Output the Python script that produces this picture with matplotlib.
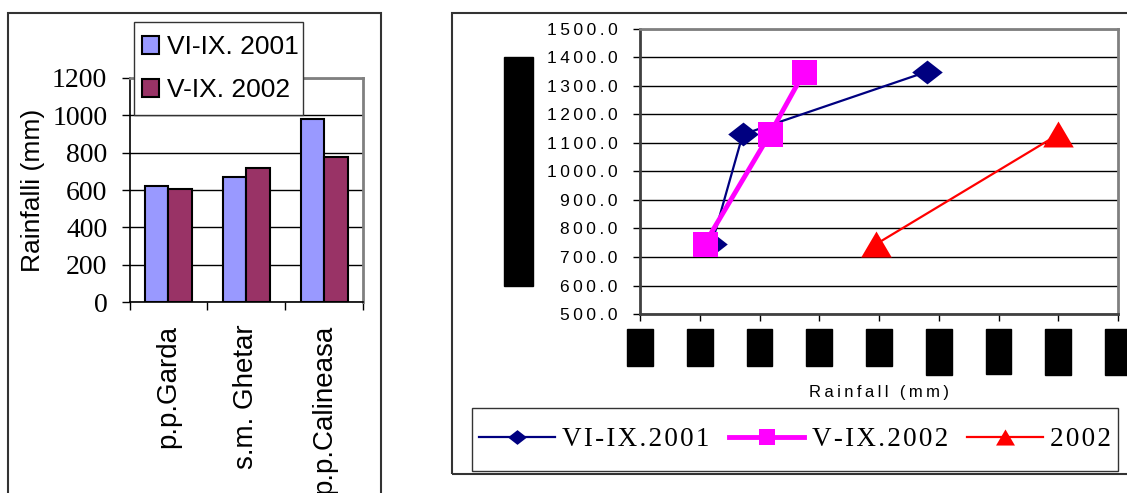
import matplotlib
matplotlib.use("Agg")
import matplotlib.pyplot as plt
import numpy as np
from matplotlib.patches import Rectangle
from matplotlib.path import Path

plt.rcParams['font.family'] = ['Liberation Sans', 'DejaVu Sans']

# stations and seasonal rainfall (mm)
stations = ["p.p.Garda", "s.m. Ghetar", "p.p.Calineasa"]
rain_2001 = [620, 672, 980]      # VI-IX 2001
rain_2002 = [608, 717, 775]      # V-IX 2002
altitude = [745, 1130, 1350]     # station altitude (m)
rain_year_2002 = [895, 1200]
altitude_year_2002 = [745, 1130]

BLUE = "#9999FF"
MAROON = "#993366"
NAVY = "#000080"
PINK = "#FF00FF"
RED = "#FF0000"
THIN = "\u2009"
HAIR = "\u200a"

W, H = 1127, 493
fig = plt.figure(figsize=(W / 100, H / 100), dpi=100)


def box(x0, y0, x1, y1):
    # pixel rectangle (top-left origin) -> figure fraction [l, b, w, h]
    return [x0 / W, 1 - y1 / H, (x1 - x0) / W, (y1 - y0) / H]


def spaced(s, sep=THIN):
    return sep.join(s)


def tall_box(extra_frac):
    # legend frame with extra room above and below the rows only
    def style(x0, y0, width, height, mutation_size):
        extra = extra_frac * mutation_size
        y0 -= extra
        height += 2 * extra
        return Path([(x0, y0), (x0 + width, y0), (x0 + width, y0 + height),
                     (x0, y0 + height), (x0, y0)], closed=True)
    return style


# ---------------- left: bar chart ----------------
ax1 = fig.add_axes(box(129.5, 77.7, 363.3, 302.3))
x = np.arange(len(stations))
bw = 0.3
ax1.bar(x - bw / 2, rain_2001, bw, color=BLUE, edgecolor='black', linewidth=1.5,
        label="VI-IX. 2001", zorder=3)
ax1.bar(x + bw / 2, rain_2002, bw, color=MAROON, edgecolor='black', linewidth=1.5,
        label="V-IX. 2002", zorder=3)
ax1.set_xlim(-0.5, len(stations) - 0.5)
ax1.set_ylim(0, 1200)
yt = np.arange(0, 1201, 200)
ax1.set_yticks(yt, [str(v) for v in yt], fontfamily=['Liberation Serif', 'DejaVu Serif'], fontsize=20)
ax1.set_xticks(x, stations, rotation=90, fontsize=20)
ax1.set_xticks(np.arange(len(stations) + 1) - 0.5, minor=True)
ax1.tick_params(axis='x', which='major', length=0, pad=16)
ax1.tick_params(axis='x', which='minor', length=6, width=1, direction='out')
ax1.tick_params(axis='y', length=6, width=1, pad=10)
ax1.yaxis.grid(True, color='black', lw=1)
ax1.set_axisbelow(True)
for s in ['left', 'bottom']:
    ax1.spines[s].set_color('black')
    ax1.spines[s].set_linewidth(1.2)
for s in ['top', 'right']:
    ax1.spines[s].set_color('#808080')
    ax1.spines[s].set_linewidth(2)
ax1.set_ylabel("Rainfalli (mm)", fontsize=19, labelpad=5)
leg1 = ax1.legend(loc='center', bbox_to_anchor=box(134, 21, 303, 116),
                  bbox_transform=fig.transFigure, mode='expand', fontsize=19,
                  handlelength=0.65, handleheight=0.65, handletextpad=0.3,
                  labelspacing=0.72, borderpad=0.3, borderaxespad=0, fancybox=False,
                  edgecolor='#333333', framealpha=1)
leg1.get_frame().set_linewidth(1)
leg1.get_frame().set_boxstyle(tall_box(0.2))

# ---------------- right: altitude vs rainfall ----------------
ax2 = fig.add_axes(box(640, 29, 1118, 314))
diamond = [(-1, 0), (0, 0.78), (1, 0), (0, -0.78)]
triangle = [(0, 0.85), (-1, -0.85), (1, -0.85)]
ax2.plot(rain_2001, altitude, color=NAVY, lw=1.6, marker=diamond, ms=22, mew=0,
         label=spaced("VI-IX.2001", HAIR), zorder=3)
ax2.plot(rain_2002, altitude, color=PINK, lw=3.5, marker='s', ms=18, mew=0,
         label=spaced("V-IX.2002", HAIR), zorder=4)
ax2.plot(rain_year_2002, altitude_year_2002, color=RED, lw=1.6, marker=triangle, ms=22,
         mew=0, label=spaced("2002", HAIR), zorder=5)
ax2.set_xlim(500, 1300)
ax2.set_ylim(500, 1500)
xt = np.arange(500, 1301, 100)
ax2.set_xticks(xt, [str(v) for v in xt], rotation=90, fontsize=11)
for lbl in ax2.get_xticklabels():
    lbl.set_bbox(dict(facecolor='black', edgecolor='black', pad=4.2))
yt2 = np.arange(500, 1501, 100)
ax2.set_yticks(yt2, [spaced(f"{v:.1f}") for v in yt2], fontsize=12.5)
ax2.tick_params(axis='x', length=5, width=1, pad=10)
ax2.tick_params(axis='y', length=5, width=1, pad=11)
ax2.yaxis.grid(True, color='black', lw=1)
ax2.set_axisbelow(True)
for s in ['left', 'bottom']:
    ax2.spines[s].set_color('#404040')
    ax2.spines[s].set_linewidth(2)
for s in ['top', 'right']:
    ax2.spines[s].set_color('#808080')
    ax2.spines[s].set_linewidth(2)
ax2.set_xlabel(spaced("Rainfall (mm)"), fontsize=12, labelpad=12)
ax2.set_ylabel("Altitude above sea level (m)", fontsize=12.5, color='black', labelpad=15,
               bbox=dict(facecolor='black', edgecolor='black', pad=5))
leg2 = ax2.legend(loc='center', ncol=3, bbox_to_anchor=box(472, 407, 1118, 472),
                  bbox_transform=fig.transFigure, mode='expand',
                  prop={'family': ['Liberation Serif', 'DejaVu Serif'], 'size': 19.5},
                  handlelength=2.8, handletextpad=0.26, columnspacing=0.4,
                  markerscale=0.62, borderpad=0.27, borderaxespad=0, fancybox=False,
                  edgecolor='#333333', framealpha=1)
leg2.get_frame().set_linewidth(1)
leg2.get_frame().set_boxstyle(tall_box(0.42))

# panel frames
fig.add_artist(Rectangle((8 / W, -0.1), (381 - 8) / W, 1 - 13 / H + 0.1,
                         transform=fig.transFigure, fill=False, edgecolor='#333333', lw=1.5))
fig.add_artist(Rectangle((452 / W, 1 - 474 / H), 0.6, (474 - 13) / H,
                         transform=fig.transFigure, fill=False, edgecolor='#333333', lw=1.5))

fig.savefig("out.png", dpi=100)
